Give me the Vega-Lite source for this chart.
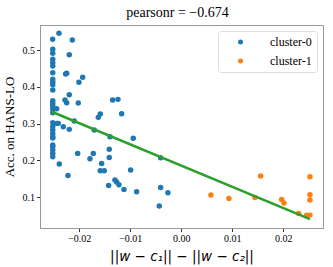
{
  "$schema": "https://vega.github.io/schema/vega-lite/v6.json",
  "width": 283,
  "height": 203,
  "autosize": {"type": "none"},
  "padding": {"left": 40, "top": 25, "right": 10, "bottom": 39},
  "background": "white",
  "title": {"text": "pearsonr = −0.674", "font": "Liberation Serif", "fontSize": 14, "fontWeight": "normal", "color": "black", "offset": 5, "dx": -4},
  "datasets": {
    "pts": [
      {"x": -0.02398, "y": 0.5454, "cluster": "cluster-0"},
      {"x": -0.02522, "y": 0.5291, "cluster": "cluster-0"},
      {"x": -0.02137, "y": 0.5272, "cluster": "cluster-0"},
      {"x": -0.0252, "y": 0.5019, "cluster": "cluster-0"},
      {"x": -0.0252, "y": 0.491, "cluster": "cluster-0"},
      {"x": -0.0252, "y": 0.4747, "cluster": "cluster-0"},
      {"x": -0.0252, "y": 0.4655, "cluster": "cluster-0"},
      {"x": -0.0252, "y": 0.4565, "cluster": "cluster-0"},
      {"x": -0.0252, "y": 0.4383, "cluster": "cluster-0"},
      {"x": -0.0252, "y": 0.4204, "cluster": "cluster-0"},
      {"x": -0.0252, "y": 0.413, "cluster": "cluster-0"},
      {"x": -0.0252, "y": 0.4057, "cluster": "cluster-0"},
      {"x": -0.0252, "y": 0.3913, "cluster": "cluster-0"},
      {"x": -0.02196, "y": 0.4872, "cluster": "cluster-0"},
      {"x": -0.02247, "y": 0.4367, "cluster": "cluster-0"},
      {"x": -0.02267, "y": 0.4348, "cluster": "cluster-0"},
      {"x": -0.01933, "y": 0.4258, "cluster": "cluster-0"},
      {"x": -0.02006, "y": 0.4122, "cluster": "cluster-0"},
      {"x": -0.02196, "y": 0.3785, "cluster": "cluster-0"},
      {"x": -0.0228, "y": 0.3641, "cluster": "cluster-0"},
      {"x": -0.02247, "y": 0.3568, "cluster": "cluster-0"},
      {"x": -0.0202, "y": 0.356, "cluster": "cluster-0"},
      {"x": -0.0252, "y": 0.3622, "cluster": "cluster-0"},
      {"x": -0.0252, "y": 0.3552, "cluster": "cluster-0"},
      {"x": -0.0252, "y": 0.3478, "cluster": "cluster-0"},
      {"x": -0.0252, "y": 0.3405, "cluster": "cluster-0"},
      {"x": -0.02443, "y": 0.3405, "cluster": "cluster-0"},
      {"x": -0.01345, "y": 0.3641, "cluster": "cluster-0"},
      {"x": -0.01241, "y": 0.366, "cluster": "cluster-0"},
      {"x": -0.01169, "y": 0.3269, "cluster": "cluster-0"},
      {"x": -0.01588, "y": 0.3261, "cluster": "cluster-0"},
      {"x": -0.01627, "y": 0.3171, "cluster": "cluster-0"},
      {"x": -0.0252, "y": 0.3296, "cluster": "cluster-0"},
      {"x": -0.0252, "y": 0.3024, "cluster": "cluster-0"},
      {"x": -0.02443, "y": 0.3008, "cluster": "cluster-0"},
      {"x": -0.02412, "y": 0.3008, "cluster": "cluster-0"},
      {"x": -0.02314, "y": 0.2916, "cluster": "cluster-0"},
      {"x": -0.02196, "y": 0.2845, "cluster": "cluster-0"},
      {"x": -0.02098, "y": 0.3071, "cluster": "cluster-0"},
      {"x": -0.0252, "y": 0.2916, "cluster": "cluster-0"},
      {"x": -0.0252, "y": 0.2826, "cluster": "cluster-0"},
      {"x": -0.0252, "y": 0.2736, "cluster": "cluster-0"},
      {"x": -0.0252, "y": 0.2644, "cluster": "cluster-0"},
      {"x": -0.0252, "y": 0.2609, "cluster": "cluster-0"},
      {"x": -0.0252, "y": 0.2418, "cluster": "cluster-0"},
      {"x": -0.0252, "y": 0.2372, "cluster": "cluster-0"},
      {"x": -0.0252, "y": 0.2283, "cluster": "cluster-0"},
      {"x": -0.0252, "y": 0.2193, "cluster": "cluster-0"},
      {"x": -0.0252, "y": 0.2101, "cluster": "cluster-0"},
      {"x": -0.02392, "y": 0.1902, "cluster": "cluster-0"},
      {"x": -0.02222, "y": 0.1595, "cluster": "cluster-0"},
      {"x": -0.02031, "y": 0.2193, "cluster": "cluster-0"},
      {"x": -0.01706, "y": 0.2826, "cluster": "cluster-0"},
      {"x": -0.01398, "y": 0.2644, "cluster": "cluster-0"},
      {"x": -0.00941, "y": 0.2601, "cluster": "cluster-0"},
      {"x": -0.01725, "y": 0.2193, "cluster": "cluster-0"},
      {"x": -0.0179, "y": 0.2046, "cluster": "cluster-0"},
      {"x": -0.01412, "y": 0.2302, "cluster": "cluster-0"},
      {"x": -0.01412, "y": 0.2084, "cluster": "cluster-0"},
      {"x": -0.01561, "y": 0.1921, "cluster": "cluster-0"},
      {"x": -0.01588, "y": 0.172, "cluster": "cluster-0"},
      {"x": -0.0151, "y": 0.172, "cluster": "cluster-0"},
      {"x": -0.00992, "y": 0.1739, "cluster": "cluster-0"},
      {"x": -0.013, "y": 0.1467, "cluster": "cluster-0"},
      {"x": -0.01267, "y": 0.1413, "cluster": "cluster-0"},
      {"x": -0.01222, "y": 0.134, "cluster": "cluster-0"},
      {"x": -0.01424, "y": 0.1323, "cluster": "cluster-0"},
      {"x": -0.01124, "y": 0.1215, "cluster": "cluster-0"},
      {"x": -0.00875, "y": 0.1149, "cluster": "cluster-0"},
      {"x": -0.00404, "y": 0.2073, "cluster": "cluster-0"},
      {"x": -0.00404, "y": 0.1269, "cluster": "cluster-0"},
      {"x": -0.00261, "y": 0.1122, "cluster": "cluster-0"},
      {"x": -0.00431, "y": 0.0761, "cluster": "cluster-0"},
      {"x": 0.00582, "y": 0.106, "cluster": "cluster-1"},
      {"x": 0.00935, "y": 0.097, "cluster": "cluster-1"},
      {"x": 0.01445, "y": 0.0997, "cluster": "cluster-1"},
      {"x": 0.01557, "y": 0.1576, "cluster": "cluster-1"},
      {"x": 0.01969, "y": 0.0943, "cluster": "cluster-1"},
      {"x": 0.02014, "y": 0.0842, "cluster": "cluster-1"},
      {"x": 0.02302, "y": 0.0563, "cluster": "cluster-1"},
      {"x": 0.02459, "y": 0.0516, "cluster": "cluster-1"},
      {"x": 0.02524, "y": 0.0516, "cluster": "cluster-1"},
      {"x": 0.02524, "y": 0.1557, "cluster": "cluster-1"},
      {"x": 0.02524, "y": 0.1068, "cluster": "cluster-1"},
      {"x": 0.02524, "y": 0.0924, "cluster": "cluster-1"}
    ],
    "fit": [
      {"x": -0.0254, "y": 0.3323},
      {"x": 0.02524, "y": 0.0408}
    ]
  },
  "layer": [
    {
      "data": {"name": "pts"},
      "mark": {"type": "circle", "size": 30, "opacity": 1},
      "encoding": {
        "x": {"field": "x", "type": "quantitative",
              "scale": {"domain": [-0.0277, 0.0278], "nice": false, "zero": false},
              "axis": {"values": [-0.02, -0.01, 0, 0.01, 0.02], "format": ".2f", "grid": false,
                       "title": "||w − c₁|| − ||w − c₂||", "titleFont": "DejaVu Sans", "titleFontSize": 13.5, "titleFontWeight": "normal", "titleFontStyle": "italic", "titlePadding": 6}},
        "y": {"field": "y", "type": "quantitative",
              "scale": {"domain": [0.0166, 0.568], "nice": false, "zero": false},
              "axis": {"values": [0.1, 0.2, 0.3, 0.4, 0.5], "format": ".1f", "grid": false,
                       "title": "Acc. on HANS-LO", "titleFont": "Liberation Serif", "titleFontSize": 13, "titleFontWeight": "normal", "titlePadding": 6}},
        "color": {"field": "cluster", "type": "nominal",
                  "scale": {"domain": ["cluster-0", "cluster-1"], "range": ["#1f77b4", "#ff7f0e"]},
                  "legend": {"title": null, "orient": "none", "legendX": 178, "legendY": 6,
                             "padding": 5, "symbolOffset": 11.5, "symbolType": "circle", "symbolSize": 25,
                             "labelFont": "Liberation Serif", "labelFontSize": 12, "labelOffset": 23.5,
                             "rowPadding": 7, "strokeColor": "#dddddd", "fillColor": "white", "cornerRadius": 3}}
      }
    },
    {
      "data": {"name": "fit"},
      "mark": {"type": "line", "color": "#2ca02c", "strokeWidth": 2.5},
      "encoding": {
        "x": {"field": "x", "type": "quantitative"},
        "y": {"field": "y", "type": "quantitative"}
      }
    }
  ],
  "config": {
    "view": {"stroke": "#999999", "strokeWidth": 1},
    "axis": {"domainColor": "#999999", "tickColor": "#333333", "tickSize": 3.5, "labelFont": "Liberation Serif", "labelFontSize": 10, "labelColor": "black", "labelPadding": 2, "titleColor": "black"}
  }
}
